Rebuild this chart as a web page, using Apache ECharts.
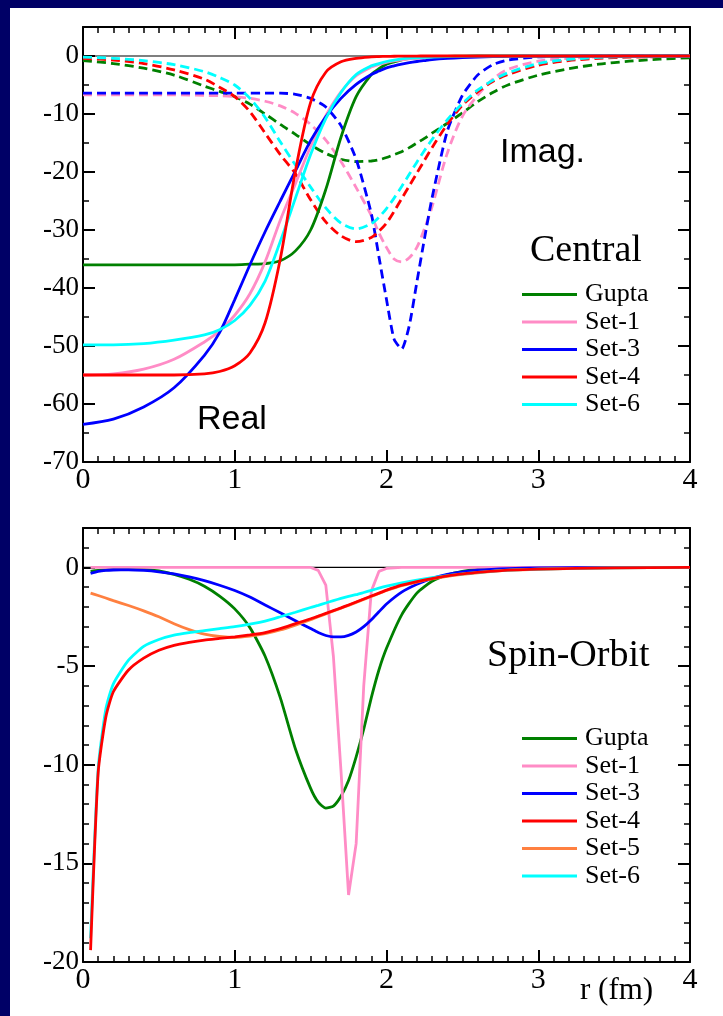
<!DOCTYPE html>
<html><head><meta charset="utf-8">
<script src="https://cdn.jsdelivr.net/npm/echarts@6/dist/echarts.min.js"></script>
<style>
html,body{margin:0;padding:0;background:#000066;}
#bg{position:absolute;left:10px;top:8px;width:713px;height:1008px;background:#fff;}
#c{position:absolute;left:0;top:0;width:723px;height:1016px;}
</style></head><body>
<div id="bg"></div><div id="c"></div>
<script>
// ---- Central potential (top panel), r in fm ----
const rTop = [0,0.2,0.4,0.6,0.8,0.9,1.0,1.1,1.2,1.3,1.4,1.5,1.6,1.7,1.8,1.9,1.95,2.0,2.05,2.1,2.15,2.2,2.25,2.3,2.4,2.5,2.6,2.7,2.8,3.0,3.2,3.4,3.6,3.8,4.0];
// real parts (solid)
const guptaRe = [-36,-36,-36,-36,-36,-36,-36,-35.9,-35.8,-35.3,-33.6,-30,-23,-14,-7,-3.2,-2.2,-1.4,-1.0,-0.65,-0.45,-0.3,-0.2,-0.15,-0.07,-0.03,0,0,0,0,0,0,0,0,0];
const set1Re  = [-55,-54.8,-54.0,-52.3,-49.3,-47.4,-44.7,-41,-35.5,-28.3,-22,-15.6,-10.3,-6.2,-3.4,-1.9,-1.45,-1.1,-0.85,-0.65,-0.5,-0.4,-0.32,-0.25,-0.15,-0.09,-0.05,-0.03,-0.02,0,0,0,0,0,0];
const set3Re  = [-63.5,-62.6,-60.5,-57.2,-51.6,-47.7,-42,-36,-30.3,-25,-19.8,-14.6,-10.5,-7.3,-4.9,-3.2,-2.6,-2.05,-1.7,-1.4,-1.15,-0.95,-0.78,-0.62,-0.42,-0.28,-0.18,-0.11,-0.07,-0.03,-0.01,0,0,0,0];
const set4Re  = [-55,-55,-55,-55,-54.8,-54.4,-53.4,-51.2,-46,-35,-19.8,-8,-2.8,-1.0,-0.4,-0.15,-0.1,-0.06,-0.04,-0.03,-0.02,-0.01,0,0,0,0,0,0,0,0,0,0,0,0,0];
const set6Re  = [-49.8,-49.8,-49.6,-49.0,-48.1,-47.2,-45.6,-43,-38.8,-32,-24.5,-17,-10.8,-6.3,-3.2,-1.7,-1.3,-0.95,-0.7,-0.5,-0.38,-0.3,-0.22,-0.17,-0.1,-0.05,-0.03,-0.01,0,0,0,0,0,0,0];
// imaginary parts (dashed)
const guptaIm = [-0.8,-1.3,-2.1,-3.3,-5.2,-6.1,-7.0,-8.3,-10,-11.8,-13.5,-15.3,-16.8,-17.8,-18.2,-18.1,-17.9,-17.5,-17.0,-16.5,-15.8,-15.0,-14.2,-13.3,-11.6,-9.8,-7.9,-6.3,-5.0,-3.3,-2.2,-1.4,-0.9,-0.55,-0.3];
const set1Im  = [-6.7,-6.7,-6.7,-6.7,-6.8,-6.85,-7.0,-7.3,-7.8,-8.6,-9.9,-11.8,-14.5,-18.2,-22.7,-27.5,-30.5,-33.0,-35.0,-35.5,-34.8,-33.0,-29.8,-26.0,-16.8,-10.4,-6.8,-4.0,-2.3,-0.9,-0.4,-0.15,-0.05,0,0];
const set3Im  = [-6.4,-6.4,-6.4,-6.4,-6.4,-6.4,-6.4,-6.4,-6.4,-6.4,-6.6,-7.3,-8.8,-12,-17.8,-27.2,-34.6,-42,-48.8,-50.5,-46.5,-39,-31.5,-24.5,-13,-6.8,-3.3,-1.5,-0.7,-0.15,-0.05,0,0,0,0];
const set4Im  = [-0.4,-0.7,-1.3,-2.4,-4.0,-5.4,-7.0,-9.6,-13.3,-17,-20.3,-24.8,-28.6,-31,-32,-31.3,-30.2,-28.8,-26.8,-24.6,-22.4,-20.2,-18,-15.8,-11.8,-8.5,-6.2,-4.4,-3.2,-1.6,-0.8,-0.4,-0.2,-0.1,0];
const set6Im  = [-0.2,-0.4,-0.8,-1.5,-2.7,-3.7,-5.0,-7.3,-10.6,-14.8,-18.8,-22.6,-26.2,-28.8,-29.8,-28.9,-27.8,-26.3,-24.5,-22.5,-20.4,-18.3,-16.3,-14.4,-11,-8.2,-5.9,-4.2,-2.9,-1.3,-0.6,-0.25,-0.1,-0.05,0];

// ---- Spin-orbit potential (bottom panel) ----
const rBot = [0.05,0.1,0.15,0.2,0.3,0.4,0.5,0.6,0.7,0.8,0.9,1.0,1.1,1.2,1.3,1.4,1.5,1.55,1.6,1.65,1.7,1.75,1.8,1.85,1.9,1.95,2.0,2.1,2.2,2.3,2.4,2.5,2.6,2.8,3.0,3.5,4.0];
const guptaSo = [-0.2,-0.15,-0.12,-0.1,-0.08,-0.1,-0.18,-0.35,-0.6,-0.95,-1.45,-2.1,-3.05,-4.5,-6.6,-9.2,-11.2,-11.9,-12.2,-12.1,-11.6,-10.8,-9.6,-8.2,-6.6,-5.2,-4.1,-2.4,-1.3,-0.7,-0.38,-0.2,-0.1,-0.03,-0.01,0,0];
const set1So  = [0,0,0,0,0,0,0,0,0,0,0,0,0,0,0,0,0,-0.15,-0.9,-4.5,-10.3,-16.6,-14.0,-6.0,-1.2,-0.2,-0.05,0,0,0,0,0,0,0,0,0,0];
const set3So  = [-0.3,-0.2,-0.15,-0.13,-0.12,-0.15,-0.22,-0.33,-0.48,-0.67,-0.9,-1.17,-1.5,-1.9,-2.3,-2.7,-3.1,-3.3,-3.45,-3.52,-3.52,-3.44,-3.27,-3.0,-2.65,-2.25,-1.85,-1.25,-0.85,-0.55,-0.35,-0.22,-0.14,-0.06,-0.02,0,0];
const set4So  = [-19.4,-10.4,-7.6,-6.3,-5.2,-4.6,-4.2,-3.95,-3.8,-3.68,-3.6,-3.52,-3.42,-3.3,-3.1,-2.85,-2.6,-2.47,-2.33,-2.19,-2.05,-1.9,-1.75,-1.6,-1.45,-1.3,-1.15,-0.9,-0.72,-0.56,-0.43,-0.33,-0.25,-0.14,-0.08,-0.02,0];
const set5So  = [-1.3,-1.42,-1.55,-1.68,-1.93,-2.2,-2.5,-2.85,-3.15,-3.38,-3.5,-3.55,-3.48,-3.36,-3.17,-2.92,-2.65,-2.5,-2.36,-2.21,-2.07,-1.92,-1.77,-1.62,-1.47,-1.32,-1.17,-0.92,-0.74,-0.58,-0.45,-0.35,-0.27,-0.15,-0.09,-0.02,0];
const set6So  = [-18.8,-10.2,-7.2,-5.9,-4.7,-4.0,-3.65,-3.43,-3.3,-3.2,-3.1,-3.0,-2.87,-2.72,-2.5,-2.27,-2.03,-1.92,-1.8,-1.68,-1.57,-1.47,-1.38,-1.27,-1.16,-1.05,-0.95,-0.78,-0.64,-0.52,-0.41,-0.32,-0.25,-0.14,-0.08,-0.02,0];

const legendTop = ['Gupta','Set-1','Set-3','Set-4','Set-6'];
const legendBot = ['Gupta','Set-1','Set-3','Set-4','Set-5','Set-6'];
const topTicksY = {min:-70, max:5, major:10, minor:5};
const botTicksY = {min:-20, max:2, major:5, minor:1};

const C = {Gupta:'#008000','Set-1':'#ff8cc6','Set-3':'#0000ff','Set-4':'#ff0000','Set-5':'#ff8040','Set-6':'#00ffff'};
const SERIF = '"Liberation Serif", "Times New Roman", serif';

function xAx(grid, pos, labels){
  return {type:'value', gridIndex:grid, position:pos, min:0, max:4, interval:1,
    axisLine:{show:true, onZero:false, lineStyle:{color:'#000', width:2}},
    axisTick:{show:true, inside:true, length:12, lineStyle:{color:'#000', width:2}},
    minorTick:{show:true, splitNumber:10, length:6, lineStyle:{color:'#000', width:1.5}},
    axisLabel:{show:labels, color:'#000', fontSize:30, fontFamily:SERIF, margin:3},
    splitLine:{show:false}, minorSplitLine:{show:false}};
}
function yAx(grid, pos, t, major, labels){
  return {type:'value', gridIndex:grid, position:pos, min:t.min, max:t.max, interval: major ? t.major : t.minor,
    axisLine:{show:major, onZero:false, lineStyle:{color:'#000', width:2}},
    axisTick:{show:true, inside:true, length: major ? 12 : 6, lineStyle:{color:'#000', width: major ? 2 : 1.5}},
    axisLabel:{show:labels, showMaxLabel:false, color:'#000', fontSize:27, fontFamily:SERIF, margin:4,
      formatter: v => '{s|' + v + '}',
      rich:{s:{fontFamily:SERIF, fontSize:27, color:'#000'}}},
    splitLine:{show:false}};
}
function mk(name, xs, ys, grid, dashed, smooth){
  const color = C[name.split(' ')[0]];
  return {name, type:'line', xAxisIndex: grid*2, yAxisIndex: grid*4,
    data: xs.map((x,i)=>[x, ys[i]]), symbol:'none', showSymbol:false, smooth: smooth,
    lineStyle:{color, width:2.8, type: dashed ? [9,5] : 'solid'}, itemStyle:{color}, z:3};
}
function zero(grid){
  return {name:'zero'+grid, type:'line', xAxisIndex:grid*2, yAxisIndex:grid*4, data:[[0,0],[4,0]],
    symbol:'none', lineStyle:{color:'#000', width:1.2}, z:2, silent:true};
}
function legend(data, top){
  return {data: data.map(n=>({name:n, icon:'rect'})), orient:'vertical', left:522, top, padding:0,
    itemWidth:55, itemHeight:3, itemGap:0.5, selectedMode:false,
    textStyle:{fontSize:26, fontFamily:SERIF, color:'#000', lineHeight:27, padding:[0,0,0,3]}};
}

const option = {
  animation:false,
  backgroundColor:'transparent',
  textStyle:{fontFamily:SERIF},
  grid:[{left:83, top:27, width:607, height:435}, {left:83, top:528, width:607, height:434}],
  xAxis:[xAx(0,'bottom',true), xAx(0,'top',false), xAx(1,'bottom',true), xAx(1,'top',false)],
  yAxis:[yAx(0,'left',topTicksY,true,true), yAx(0,'left',topTicksY,false,false), yAx(0,'right',topTicksY,true,false), yAx(0,'right',topTicksY,false,false),
         yAx(1,'left',botTicksY,true,true), yAx(1,'left',botTicksY,false,false), yAx(1,'right',botTicksY,true,false), yAx(1,'right',botTicksY,false,false)],
  legend:[legend(legendTop, 281), legend(legendBot, 725)],
  series:[
    zero(0),
    mk('Gupta imag', rTop, guptaIm, 0, true, 0.3),
    mk('Set-1 imag', rTop, set1Im, 0, true, 0.3),
    mk('Set-3 imag', rTop, set3Im, 0, true, 0.2),
    mk('Set-4 imag', rTop, set4Im, 0, true, 0.3),
    mk('Set-6 imag', rTop, set6Im, 0, true, 0.3),
    mk('Gupta', rTop, guptaRe, 0, false, 0.3),
    mk('Set-1', rTop, set1Re, 0, false, 0.3),
    mk('Set-3', rTop, set3Re, 0, false, 0.3),
    mk('Set-6', rTop, set6Re, 0, false, 0.3),
    mk('Set-4', rTop, set4Re, 0, false, 0.3),
    zero(1),
    mk('Gupta so', rBot, guptaSo, 1, false, 0.2),
    mk('Set-1 so', rBot, set1So, 1, false, false),
    mk('Set-3 so', rBot, set3So, 1, false, 0.2),
    mk('Set-5', rBot, set5So, 1, false, 0.2),
    mk('Set-6 so', rBot, set6So, 1, false, 0.2),
    mk('Set-4 so', rBot, set4So, 1, false, 0.2)
  ],
  graphic:[
    {type:'text', left:500, top:136, style:{text:'Imag.', font:'34px "Liberation Sans"', fill:'#000'}},
    {type:'text', left:197, top:403, style:{text:'Real', font:'34px "Liberation Sans"', fill:'#000'}},
    {type:'text', left:530, top:232, style:{text:'Central', font:'38px "Liberation Serif"', fill:'#000'}},
    {type:'text', left:487, top:637, style:{text:'Spin-Orbit', font:'38px "Liberation Serif"', fill:'#000'}},
    {type:'text', left:580, top:975, style:{text:'r (fm)', font:'31px "Liberation Serif"', fill:'#000'}}
  ]
};
const chart = echarts.init(document.getElementById('c'));
chart.setOption(option);
</script>
</body></html>
